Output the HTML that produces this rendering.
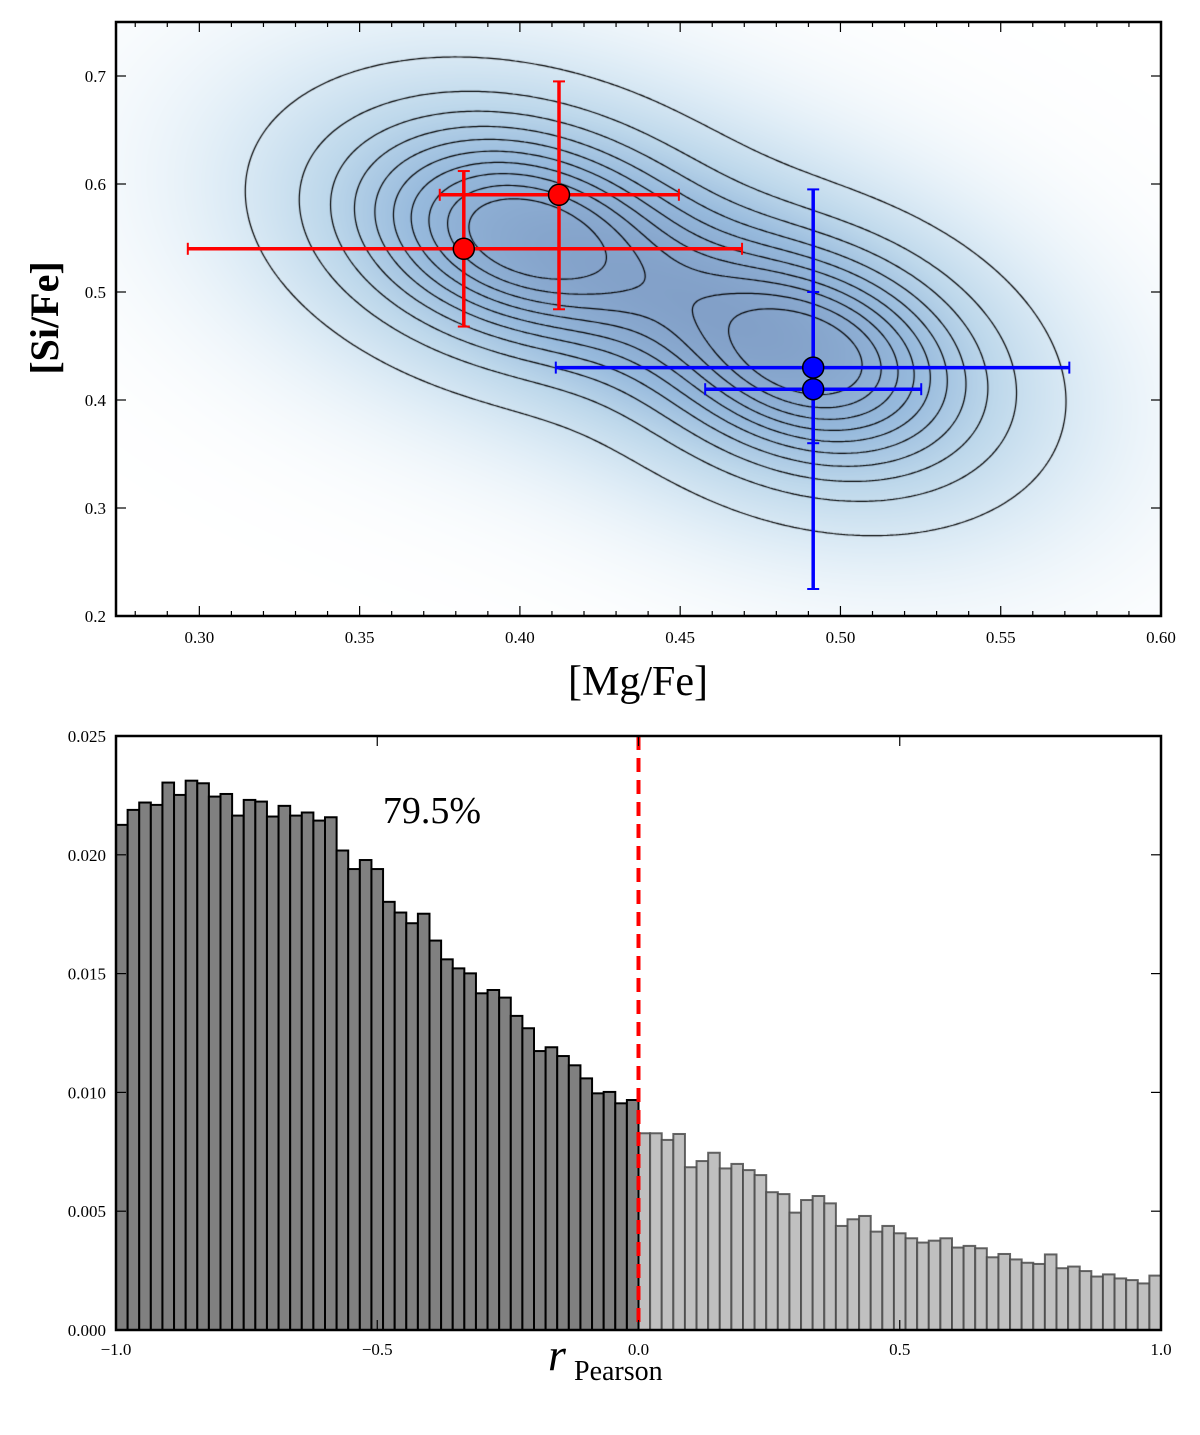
<!DOCTYPE html>
<html><head><meta charset="utf-8">
<style>
html,body{margin:0;padding:0;background:#fff;}
#wrap{position:relative;width:1200px;height:1435px;overflow:hidden;}
canvas{position:absolute;left:116px;top:22px;}
svg{position:absolute;left:0;top:0;}
text{font-family:"Liberation Serif","DejaVu Serif",serif;}
</style></head>
<body>
<div id="wrap">
<canvas id="dens" width="1045" height="594"></canvas>
<svg id="svg" width="1200" height="1435"></svg>
</div>
<script>
// ---- top panel data ----
const redX = [0.3825, 0.4122];
const redY = [0.54, 0.59];
const redXlo = [0.2964, 0.3750];
const redXhi = [0.4693, 0.4496];
const redYlo = [0.468, 0.484];
const redYhi = [0.612, 0.695];
const blueX = [0.4915, 0.4915];
const blueY = [0.43, 0.41];
const blueXlo = [0.4112, 0.4578];
const blueXhi = [0.5714, 0.5252];
const blueYlo = [0.36, 0.225];
const blueYhi = [0.50, 0.595];
const topXTicks = [0.30, 0.35, 0.40, 0.45, 0.50, 0.55, 0.60];
const topXTickLabels = ["0.30","0.35","0.40","0.45","0.50","0.55","0.60"];
const topYTicks = [0.2, 0.3, 0.4, 0.5, 0.6, 0.7];
const topYTickLabels = ["0.2","0.3","0.4","0.5","0.6","0.7"];
// ---- histogram data (90 bins over [-1,1]) ----
const histNeg = [0.02126,0.02189,0.02220,0.02210,0.02304,0.02252,0.02312,0.02301,0.02245,0.02256,0.02165,0.02231,0.02224,0.02161,0.02206,0.02165,0.02178,0.02144,0.02158,0.02018,0.01940,0.01978,0.01940,0.01802,0.01757,0.01712,0.01752,0.01639,0.01560,0.01522,0.01501,0.01417,0.01431,0.01399,0.01322,0.01270,0.01174,0.01190,0.01153,0.01114,0.01059,0.00996,0.01002,0.00954,0.00968];
const histPos = [0.00828,0.00828,0.00800,0.00825,0.00685,0.00711,0.00746,0.00680,0.00699,0.00673,0.00652,0.00580,0.00572,0.00494,0.00547,0.00564,0.00533,0.00438,0.00466,0.00480,0.00414,0.00438,0.00407,0.00386,0.00368,0.00376,0.00386,0.00347,0.00354,0.00344,0.00306,0.00320,0.00297,0.00283,0.00278,0.00318,0.00260,0.00267,0.00248,0.00225,0.00234,0.00217,0.00210,0.00196,0.00229];
const botXTicks = [-1.0, -0.5, 0.0, 0.5, 1.0];
const botXTickLabels = ["\u22121.0","\u22120.5","0.0","0.5","1.0"];
const botYTicks = [0, 0.005, 0.010, 0.015, 0.020, 0.025];
const botYTickLabels = ["0.000","0.005","0.010","0.015","0.020","0.025"];

const NS="http://www.w3.org/2000/svg";
const svg=document.getElementById('svg');
function el(tag,attrs,parent){const e=document.createElementNS(NS,tag);for(const k in attrs)e.setAttribute(k,attrs[k]);(parent||svg).appendChild(e);return e;}

const T={l:116,r:1161,t:22,b:616,x0:0.274,x1:0.60,y0:0.2,y1:0.75};
const tx=v=>T.l+(v-T.x0)/(T.x1-T.x0)*(T.r-T.l);
const ty=v=>T.b-(v-T.y0)/(T.y1-T.y0)*(T.b-T.t);

const comps=[{x:0.402,y:0.552,sx:0.036,sy:0.068,rho:-0.25,w:1.0},{x:0.490,y:0.440,sx:0.033,sy:0.068,rho:-0.25,w:1.0}];
function dens(x,y,k){let s=0;for(const c of comps){const dx=(x-c.x)/(c.sx*k),dy=(y-c.y)/(c.sy*k);const q=(dx*dx-2*c.rho*dx*dy+dy*dy)/(1-c.rho*c.rho);s+=c.w*Math.exp(-0.5*q);}return s;}
const cv=document.getElementById('dens');const ctx=cv.getContext('2d');
const W=cv.width,H=cv.height;const img=ctx.createImageData(W,H);
let maxC=0;const cf=new Float32Array(W*H);
for(let j=0;j<H;j++)for(let i=0;i<W;i++){const x=T.x0+(i+0.5)/W*(T.x1-T.x0),y=T.y1-(j+0.5)/H*(T.y1-T.y0);const v=dens(x,y,1.4);cf[j*W+i]=v;if(v>maxC)maxC=v;}
const cmap=[[0,255,255,255],[0.25,222,236,246],[0.5,190,216,235],[0.75,150,185,220],[1,130,160,200]];
function cm(t){for(let k=1;k<cmap.length;k++){if(t<=cmap[k][0]){const a=cmap[k-1],b=cmap[k];const f=(t-a[0])/(b[0]-a[0]);return [a[1]+(b[1]-a[1])*f,a[2]+(b[2]-a[2])*f,a[3]+(b[3]-a[3])*f];}}return cmap[cmap.length-1].slice(1);}
for(let p=0;p<W*H;p++){let t=Math.pow(cf[p]/maxC,0.7);const c=cm(t);img.data[p*4]=c[0];img.data[p*4+1]=c[1];img.data[p*4+2]=c[2];img.data[p*4+3]=255;}
ctx.putImageData(img,0,0);
const st=3;const gw=Math.ceil(W/st)+1,gh=Math.ceil(H/st)+1;const g=new Float32Array(gw*gh);let gmax=0;
for(let j=0;j<gh;j++)for(let i=0;i<gw;i++){const x=T.x0+(i*st)/W*(T.x1-T.x0),y=T.y1-(j*st)/H*(T.y1-T.y0);const v=dens(x,y,1);g[j*gw+i]=v;if(v>gmax)gmax=v;}
const levels=[0.05,0.14,0.23,0.32,0.41,0.50,0.59,0.68,0.77,0.86];
ctx.strokeStyle='#000';ctx.lineWidth=1.2;
for(const lf of levels){const L=lf*gmax;ctx.beginPath();
 for(let j=0;j<gh-1;j++)for(let i=0;i<gw-1;i++){
  const a=g[j*gw+i],b=g[j*gw+i+1],c=g[(j+1)*gw+i+1],d=g[(j+1)*gw+i];
  const pts=[];
  const ip=(v1,v2)=>(L-v1)/(v2-v1);
  if((a>L)!==(b>L))pts.push([(i+ip(a,b))*st,j*st]);
  if((b>L)!==(c>L))pts.push([(i+1)*st,(j+ip(b,c))*st]);
  if((d>L)!==(c>L))pts.push([(i+ip(d,c))*st,(j+1)*st]);
  if((a>L)!==(d>L))pts.push([i*st,(j+ip(a,d))*st]);
  for(let k=0;k+1<pts.length;k+=2){ctx.moveTo(pts[k][0],pts[k][1]);ctx.lineTo(pts[k+1][0],pts[k+1][1]);}
 }
 ctx.stroke();}

const topAx=el('g',{});

for(let v=0.28;v<=0.6001;v+=0.01){const X=tx(v);const major=Math.abs(Math.round(v*100)%5)===0;const len=major?10:5;
 el('line',{x1:X,x2:X,y1:T.b,y2:T.b-len,stroke:'#000','stroke-width':1.2},topAx);
 el('line',{x1:X,x2:X,y1:T.t,y2:T.t+len,stroke:'#000','stroke-width':1.2},topAx);}
topXTicks.forEach((v,i)=>{const t=el('text',{x:tx(v),y:T.b+27,'text-anchor':'middle','font-size':17},topAx);t.textContent=topXTickLabels[i];
 });
topYTicks.forEach((v,i)=>{const Y=ty(v);el('line',{x1:T.l,x2:T.l+10,y1:Y,y2:Y,stroke:'#000','stroke-width':1.2},topAx);el('line',{x1:T.r,x2:T.r-10,y1:Y,y2:Y,stroke:'#000','stroke-width':1.2},topAx);
 const t=el('text',{x:T.l-10,y:Y+6,'text-anchor':'end','font-size':17},topAx);t.textContent=topYTickLabels[i];
 });
el('rect',{x:T.l,y:T.t,width:T.r-T.l,height:T.b-T.t,fill:'none',stroke:'#000','stroke-width':2.5},topAx);
const xl=el('text',{x:638,y:695,'text-anchor':'middle','font-size':42},topAx);xl.textContent='[Mg/Fe]';

const yl=el('text',{x:0,y:0,'text-anchor':'middle','font-size':40,'font-weight':'bold',transform:'translate(58,318) rotate(-90)'},topAx);yl.textContent='[Si/Fe]';


function errbars(xs,ys,xlo,xhi,ylo,yhi,col,name){
 const grp=el('g',{});
 
 for(let i=0;i<xs.length;i++){
  const X=tx(xs[i]),Y=ty(ys[i]);
  el('line',{x1:tx(xlo[i]),x2:tx(xhi[i]),y1:Y,y2:Y,stroke:col,'stroke-width':3.5},grp);
  el('line',{x1:X,x2:X,y1:ty(ylo[i]),y2:ty(yhi[i]),stroke:col,'stroke-width':3.5},grp);
  [xlo[i],xhi[i]].forEach(v=>el('line',{x1:tx(v),x2:tx(v),y1:Y-6,y2:Y+6,stroke:col,'stroke-width':2},grp));
  [ylo[i],yhi[i]].forEach(v=>el('line',{x1:X-6,x2:X+6,y1:ty(v),y2:ty(v),stroke:col,'stroke-width':2},grp));
 }
 for(let i=0;i<xs.length;i++){const c=el('circle',{cx:tx(xs[i]),cy:ty(ys[i]),r:10.5,fill:col,stroke:'#000','stroke-width':1.5},grp);
  }
}
errbars(redX,redY,redXlo,redXhi,redYlo,redYhi,'#ff0000','red-series');
errbars(blueX,blueY,blueXlo,blueXhi,blueYlo,blueYhi,'#0000ff','blue-series');

const B={l:116,r:1161,t:736,b:1330,x0:-1,x1:1,y0:0,y1:0.025};
const bx=v=>B.l+(v-B.x0)/(B.x1-B.x0)*(B.r-B.l);
const by=v=>B.b-(v-B.y0)/(B.y1-B.y0)*(B.b-B.t);
const bw=1/histNeg.length;
const hg=el('g',{});
histPos.forEach((v,i)=>{const x0=bx(i*1/histPos.length),x1=bx((i+1)/histPos.length);
 const r=el('rect',{x:x0,y:by(v),width:x1-x0,height:B.b-by(v),fill:'#c0c0c0',stroke:'#4a4a4a','stroke-width':2,'stroke-opacity':0.85},hg);
 });
histNeg.forEach((v,i)=>{const x0=bx(-1+i*bw),x1=bx(-1+(i+1)*bw);
 const r=el('rect',{x:x0,y:by(v),width:x1-x0,height:B.b-by(v),fill:'#808080',stroke:'#000','stroke-width':2},hg);
 });
const dl=el('line',{x1:bx(0),x2:bx(0),y1:B.t,y2:B.b,stroke:'#ff0000','stroke-width':4,'stroke-dasharray':'14 8'});

const bAx=el('g',{});
botXTicks.forEach((v,i)=>{const X=bx(v);el('line',{x1:X,x2:X,y1:B.b,y2:B.b-10,stroke:'#000','stroke-width':1.2},bAx);el('line',{x1:X,x2:X,y1:B.t,y2:B.t+10,stroke:'#000','stroke-width':1.2},bAx);
 const t=el('text',{x:X,y:B.b+25,'text-anchor':'middle','font-size':17},bAx);t.textContent=botXTickLabels[i];
 });
botYTicks.forEach((v,i)=>{const Y=by(v);el('line',{x1:B.l,x2:B.l+10,y1:Y,y2:Y,stroke:'#000','stroke-width':1.2},bAx);el('line',{x1:B.r,x2:B.r-10,y1:Y,y2:Y,stroke:'#000','stroke-width':1.2},bAx);
 const t=el('text',{x:B.l-10,y:Y+6,'text-anchor':'end','font-size':17},bAx);t.textContent=botYTickLabels[i];
 });
el('rect',{x:B.l,y:B.t,width:B.r-B.l,height:B.b-B.t,fill:'none',stroke:'#000','stroke-width':2.5},bAx);
const pct=el('text',{x:432,y:823,'text-anchor':'middle','font-size':38},bAx);pct.textContent='79.5%';

const xt=el('text',{x:548,y:1370,'font-size':46,'font-style':'italic'},bAx);xt.textContent='r';

const xs=el('text',{x:574,y:1380,'font-size':28},bAx);xs.textContent='Pearson';

</script>
</body></html>
